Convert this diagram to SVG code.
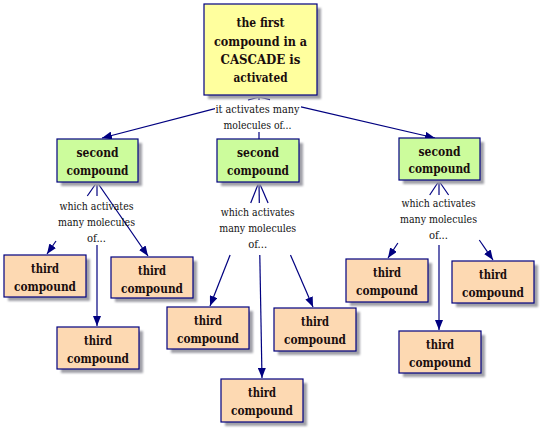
<svg xmlns="http://www.w3.org/2000/svg" width="543" height="428" viewBox="0 0 543 428">
<defs>
<filter id="blur" x="-10%" y="-10%" width="130%" height="130%"><feGaussianBlur stdDeviation="1"/></filter>
<marker id="arr" markerUnits="userSpaceOnUse" markerWidth="10" markerHeight="8" refX="10" refY="4" orient="auto"><path d="M0,0 L10,4 L0,8 z" fill="#000080"/></marker>
<style>
.sh{fill:#a0a0a8;filter:url(#blur)}
.box{stroke:#000080;stroke-width:1.2}
.c1{fill:#ffff9e}
.c2{fill:#ccfc9c}
.c3{fill:#fdd9b2}
.nt{font-family:'DejaVu Serif',serif;font-weight:bold;font-size:13px;fill:#1a0d0d;text-anchor:middle}
.lt{font-family:'DejaVu Serif',serif;font-size:11px;fill:#111;text-anchor:middle}
.ln{stroke:#000080;stroke-width:1.2;fill:none}
</style>
</defs>
<rect width="543" height="428" fill="#fff"/>
<g id="connectors" class="ln">
<path d="M259,97 L248,100"/>
<path d="M215,108.6 L102,138" marker-end="url(#arr)"/>
<path d="M259,97 L270,99.6"/>
<path d="M301,106.8 L435,138" marker-end="url(#arr)"/>
<path d="M259,96 L259,100"/>
<path d="M259,132 L259,139"/>
<path d="M97,182 L87.3,196"/>
<path d="M56,241 L47,254" marker-end="url(#arr)"/>
<path d="M97,182 L148,256" marker-end="url(#arr)"/>
<path d="M97,182 L97,196"/>
<path d="M97,245 L97,326" marker-end="url(#arr)"/>
<path d="M259,182 L250.7,203"/>
<path d="M230.1,255 L210,306" marker-end="url(#arr)"/>
<path d="M259,182 L259.3,203"/>
<path d="M259.8,255 L262,378" marker-end="url(#arr)"/>
<path d="M259,182 L268.1,203"/>
<path d="M290.5,255 L313,307" marker-end="url(#arr)"/>
<path d="M439,181 L429.7,195"/>
<path d="M397.9,243 L388,258" marker-end="url(#arr)"/>
<path d="M439,181 L448.6,195"/>
<path d="M479.3,240 L493,260" marker-end="url(#arr)"/>
<path d="M439,181 L439,195"/>
<path d="M439,245 L439,330" marker-end="url(#arr)"/>
</g>
<g id="label-top">
<text class="lt" x="257.5" y="113" textLength="84" lengthAdjust="spacingAndGlyphs">it activates many</text>
<text class="lt" x="257.5" y="129" textLength="68" lengthAdjust="spacingAndGlyphs">molecules of...</text>
</g>
<g id="label-left">
<text class="lt" x="96.5" y="210" textLength="74" lengthAdjust="spacingAndGlyphs">which activates</text>
<text class="lt" x="96.5" y="226" textLength="77" lengthAdjust="spacingAndGlyphs">many molecules</text>
<text class="lt" x="96.5" y="242" textLength="19" lengthAdjust="spacingAndGlyphs">of...</text>
</g>
<g id="label-mid">
<text class="lt" x="257.7" y="216" textLength="74" lengthAdjust="spacingAndGlyphs">which activates</text>
<text class="lt" x="257.7" y="232" textLength="77" lengthAdjust="spacingAndGlyphs">many molecules</text>
<text class="lt" x="257.7" y="248" textLength="19" lengthAdjust="spacingAndGlyphs">of...</text>
</g>
<g id="label-right">
<text class="lt" x="438.5" y="207" textLength="74" lengthAdjust="spacingAndGlyphs">which activates</text>
<text class="lt" x="438.5" y="223" textLength="77" lengthAdjust="spacingAndGlyphs">many molecules</text>
<text class="lt" x="438.5" y="239" textLength="19" lengthAdjust="spacingAndGlyphs">of...</text>
</g>
<g id="top">
<rect class="sh" x="208" y="8" width="113" height="91"/>
<rect class="box c1" x="204" y="4" width="113" height="91"/>
<text class="nt" x="260.5" y="27" textLength="48" lengthAdjust="spacingAndGlyphs">the first</text>
<text class="nt" x="260.5" y="45.5" textLength="93" lengthAdjust="spacingAndGlyphs">compound in a</text>
<text class="nt" x="260.5" y="64" textLength="80" lengthAdjust="spacingAndGlyphs">CASCADE is</text>
<text class="nt" x="260.5" y="82" textLength="54" lengthAdjust="spacingAndGlyphs">activated</text>
</g>
<g id="second-left">
<rect class="sh" x="61" y="143" width="81" height="43"/>
<rect class="box c2" x="57" y="139" width="81" height="43"/>
<text class="nt" x="97.5" y="157" textLength="42" lengthAdjust="spacingAndGlyphs">second</text>
<text class="nt" x="97.5" y="175" textLength="62" lengthAdjust="spacingAndGlyphs">compound</text>
</g>
<g id="second-mid">
<rect class="sh" x="221" y="143" width="82" height="43"/>
<rect class="box c2" x="217" y="139" width="82" height="43"/>
<text class="nt" x="258" y="157" textLength="42" lengthAdjust="spacingAndGlyphs">second</text>
<text class="nt" x="258" y="175" textLength="62" lengthAdjust="spacingAndGlyphs">compound</text>
</g>
<g id="second-right">
<rect class="sh" x="403" y="142" width="81" height="42"/>
<rect class="box c2" x="399" y="138" width="81" height="42"/>
<text class="nt" x="439.5" y="155.5" textLength="42" lengthAdjust="spacingAndGlyphs">second</text>
<text class="nt" x="439.5" y="173" textLength="62" lengthAdjust="spacingAndGlyphs">compound</text>
</g>
<g id="third-a">
<rect class="sh" x="8" y="259" width="82" height="42"/>
<rect class="box c3" x="4" y="255" width="82" height="42"/>
<text class="nt" x="45" y="273" textLength="28" lengthAdjust="spacingAndGlyphs">third</text>
<text class="nt" x="45" y="290.5" textLength="62" lengthAdjust="spacingAndGlyphs">compound</text>
</g>
<g id="third-b">
<rect class="sh" x="115" y="261" width="82" height="41"/>
<rect class="box c3" x="111" y="257" width="82" height="41"/>
<text class="nt" x="152" y="275" textLength="28" lengthAdjust="spacingAndGlyphs">third</text>
<text class="nt" x="152" y="292.5" textLength="62" lengthAdjust="spacingAndGlyphs">compound</text>
</g>
<g id="third-c">
<rect class="sh" x="61" y="331" width="82" height="42"/>
<rect class="box c3" x="57" y="327" width="82" height="42"/>
<text class="nt" x="98" y="345" textLength="28" lengthAdjust="spacingAndGlyphs">third</text>
<text class="nt" x="98" y="362.5" textLength="62" lengthAdjust="spacingAndGlyphs">compound</text>
</g>
<g id="third-d">
<rect class="sh" x="171" y="311" width="82" height="42"/>
<rect class="box c3" x="167" y="307" width="82" height="42"/>
<text class="nt" x="208" y="325" textLength="28" lengthAdjust="spacingAndGlyphs">third</text>
<text class="nt" x="208" y="342.5" textLength="62" lengthAdjust="spacingAndGlyphs">compound</text>
</g>
<g id="third-e">
<rect class="sh" x="225" y="383" width="82" height="43"/>
<rect class="box c3" x="221" y="379" width="82" height="43"/>
<text class="nt" x="262" y="397" textLength="28" lengthAdjust="spacingAndGlyphs">third</text>
<text class="nt" x="262" y="415" textLength="62" lengthAdjust="spacingAndGlyphs">compound</text>
</g>
<g id="third-f">
<rect class="sh" x="278" y="312" width="82" height="43"/>
<rect class="box c3" x="274" y="308" width="82" height="43"/>
<text class="nt" x="315" y="326" textLength="28" lengthAdjust="spacingAndGlyphs">third</text>
<text class="nt" x="315" y="344" textLength="62" lengthAdjust="spacingAndGlyphs">compound</text>
</g>
<g id="third-g">
<rect class="sh" x="350" y="263" width="82" height="43"/>
<rect class="box c3" x="346" y="259" width="82" height="43"/>
<text class="nt" x="387" y="277" textLength="28" lengthAdjust="spacingAndGlyphs">third</text>
<text class="nt" x="387" y="295" textLength="62" lengthAdjust="spacingAndGlyphs">compound</text>
</g>
<g id="third-h">
<rect class="sh" x="456" y="265" width="82" height="42"/>
<rect class="box c3" x="452" y="261" width="82" height="42"/>
<text class="nt" x="493" y="279" textLength="28" lengthAdjust="spacingAndGlyphs">third</text>
<text class="nt" x="493" y="296.5" textLength="62" lengthAdjust="spacingAndGlyphs">compound</text>
</g>
<g id="third-i">
<rect class="sh" x="403" y="335" width="82" height="42"/>
<rect class="box c3" x="399" y="331" width="82" height="42"/>
<text class="nt" x="440" y="349" textLength="28" lengthAdjust="spacingAndGlyphs">third</text>
<text class="nt" x="440" y="366.5" textLength="62" lengthAdjust="spacingAndGlyphs">compound</text>
</g>
</svg>
